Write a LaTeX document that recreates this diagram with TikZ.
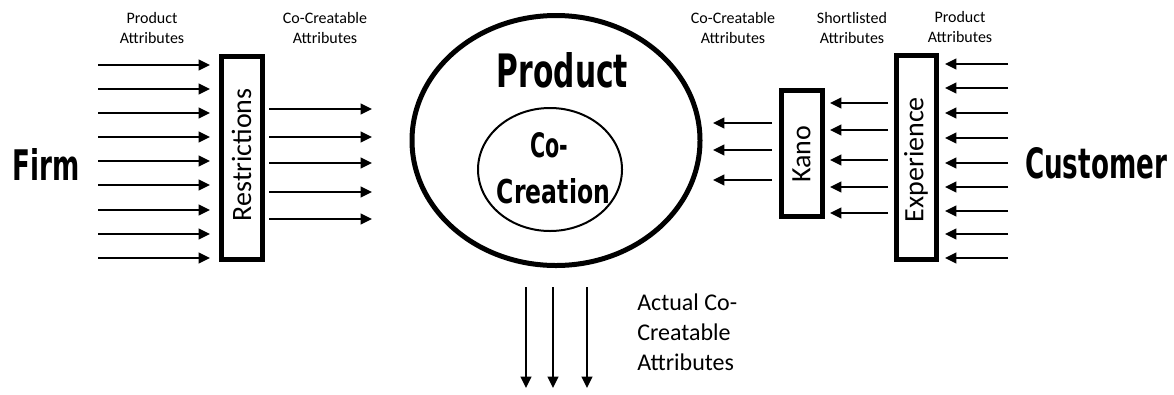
\documentclass[tikz,border=0pt]{standalone}
\usepackage{fontspec}
\usepackage{graphicx}
\setmainfont{Carlito}
\newfontfamily\heavyfont{DejaVu Sans}
\usetikzlibrary{arrows.meta,shapes.geometric}
\newlength\px
\setlength\px{0.75pt}
\tikzset{
  arr/.style={line width=1.6pt,-{Triangle[length=8.5pt,width=8pt]}},
  boxstyle/.style={draw,line width=3.75pt,minimum width=30.75pt,inner sep=0pt},
  lbl/.style={align=center,font=\fontsize{12}{15}\selectfont,inner sep=0pt},
  rot/.style={rotate=90,font=\fontsize{21}{24}\selectfont,inner sep=0pt},
  big/.style={inner sep=0pt,anchor=base}
}
\newcommand{\hv}[3]{\resizebox{#1\px}{#2\px}{\heavyfont\bfseries #3}}
\begin{document}
\begin{tikzpicture}[x=0.75pt,y=-0.75pt]
\useasboundingbox (0,0) rectangle (1174,394);
% central ellipses
\node[draw,ellipse,line width=3.75pt,minimum width=216pt,minimum height=187.5pt,inner sep=0pt] (prod) at (556,140.5) {};
\node[draw,ellipse,line width=1.5pt,minimum width=108pt,minimum height=92.25pt,inner sep=0pt] (cocr) at (550,169.5) {};
\node[big] (prodt) at (562.5,87) {\hv{131}{35}{Product}};
\node[big] (cot) at (549,157) {\hv{38}{25}{Co-}};
\node[big] (creat) at (553.5,203) {\hv{113}{25}{Creation}};
% side titles
\node[big] (firm) at (46.5,180) {\hv{67}{32}{Firm}};
\node[big] (cust) at (1096,178) {\hv{142}{31}{Customer}};
% boxes
\node[boxstyle,minimum height=152.25pt] (restr) at (241.5,157.5) {};
\node[rot] at ([yshift=2pt]restr.center) {Restrictions};
\node[boxstyle,minimum height=94.5pt] (kano) at (801.5,153) {};
\node[rot] at ([yshift=-1pt]kano.center) {Kano};
\node[boxstyle,minimum height=153pt,minimum width=30pt] (exper) at (916,157) {};
\node[rot] at ([yshift=-2pt]exper.center) {Experience};
% labels
\node[lbl] (l1) at (152,28) {Product\\Attributes};
\node[lbl] (l2) at (325,28) {Co-Creatable\\Attributes};
\node[lbl] (l3) at (733,28) {Co-Creatable\\Attributes};
\node[lbl] (l4) at (852,28) {Shortlisted\\Attributes};
\node[lbl] (l5) at (960,27) {Product\\Attributes};
\node[align=left,anchor=north west,inner sep=0pt,font=\fontsize{18}{22.2}\selectfont] (l6) at (637,294) {Actual Co-\\Creatable\\Attributes};
% arrows
\foreach \y in {65,89,113,137,161,185,210,234,258}
  \draw[arr] (98,\y) -- (210,\y);
\foreach \y in {109,137,163,192,219}
  \draw[arr] (269,\y) -- (372,\y);
\foreach \y in {123,150,180}
  \draw[arr] (772,\y) -- (713,\y);
\foreach \y in {103,130,160,187,213}
  \draw[arr] (888,\y) -- (830,\y);
\foreach \y in {64,88,113,138,163,187,211,234,258}
  \draw[arr] (1008,\y) -- (945,\y);
\foreach \x in {526,553,587}
  \draw[arr] (\x,287) -- (\x,388);
\end{tikzpicture}
\end{document}
